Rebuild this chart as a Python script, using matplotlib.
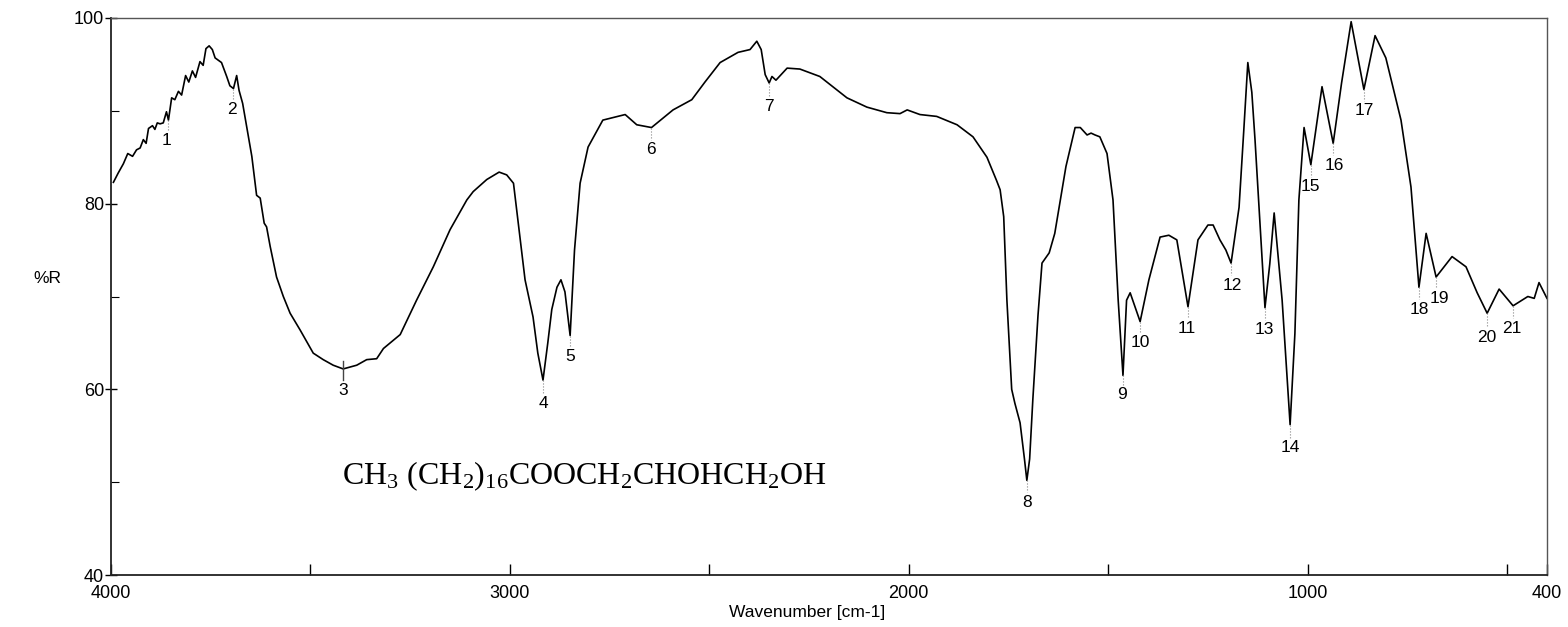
import matplotlib
matplotlib.use("Agg")
import matplotlib.pyplot as plt
from matplotlib.ticker import FixedLocator

plt.rcParams["font.family"] = ["Liberation Sans", "DejaVu Sans"]
plt.rcParams["mathtext.fontset"] = "custom"
plt.rcParams["mathtext.rm"] = "Liberation Serif"
plt.rcParams["mathtext.it"] = "Liberation Serif"

# IR spectrum of glyceryl monostearate (wavenumber cm-1 vs %R)
wavenumber = [
    3994, 3982, 3969, 3958, 3946, 3936, 3927, 3919, 3912, 3906, 3896, 3890,
    3884, 3877, 3869, 3861, 3856, 3848, 3840, 3831, 3823, 3813, 3805, 3796,
    3788, 3777, 3769, 3762, 3754, 3746, 3739, 3723, 3710, 3702, 3693, 3685,
    3679, 3670, 3660, 3647, 3635, 3626, 3616, 3610, 3601, 3585, 3568, 3551,
    3526, 3493, 3468, 3443, 3418, 3384, 3359, 3334, 3317, 3275, 3234, 3192,
    3150, 3108, 3092, 3058, 3027, 3008, 2991, 2962, 2942, 2930, 2917, 2905,
    2895, 2882, 2872, 2862, 2849, 2838, 2824, 2804, 2767, 2711, 2682, 2645,
    2591, 2544, 2511, 2473, 2428, 2398, 2381, 2370, 2360, 2350, 2343, 2333,
    2305, 2273, 2223, 2155, 2105, 2055, 2022, 2004, 1972, 1930, 1879, 1839,
    1804, 1780, 1771, 1762, 1754, 1742, 1734, 1721, 1710, 1704, 1697, 1689,
    1676, 1666, 1648, 1634, 1606, 1583, 1570, 1553, 1543, 1533, 1521, 1503,
    1488, 1475, 1463, 1454, 1445, 1433, 1420, 1398, 1370, 1348, 1328, 1300,
    1275, 1250, 1237, 1220, 1205, 1192, 1172, 1160, 1150, 1140, 1132, 1107,
    1095, 1084, 1064, 1044, 1032, 1022, 1009, 992, 964, 936, 915, 891,
    859, 831, 804, 766, 741, 721, 703, 678, 638, 603, 575, 550,
    520, 485, 448, 432, 420, 400,
]
reflectance = [
    82.3, 83.3, 84.3, 85.4, 85.1, 85.8, 86.0, 86.9, 86.5, 88.1, 88.4, 88.0,
    88.7, 88.6, 88.7, 89.9, 89.0, 91.4, 91.2, 92.1, 91.7, 93.8, 93.1, 94.3,
    93.6, 95.3, 94.9, 96.7, 97.0, 96.6, 95.7, 95.2, 93.7, 92.7, 92.4, 93.8,
    92.2, 90.8, 88.3, 85.1, 80.9, 80.6, 77.9, 77.5, 75.4, 72.1, 70.0, 68.2,
    66.4, 63.9, 63.2, 62.6, 62.2, 62.6, 63.2, 63.3, 64.4, 65.9, 69.6, 73.2,
    77.2, 80.4, 81.3, 82.6, 83.4, 83.1, 82.2, 71.8, 67.8, 63.9, 61.0, 65.0,
    68.6, 71.0, 71.8, 70.5, 65.8, 75.0, 82.2, 86.1, 89.0, 89.6, 88.5, 88.2,
    90.1, 91.2, 93.1, 95.2, 96.3, 96.6, 97.5, 96.6, 93.9, 93.0, 93.7, 93.3,
    94.6, 94.5, 93.7, 91.4, 90.4, 89.8, 89.7, 90.1, 89.6, 89.4, 88.5, 87.2,
    85.0, 82.5, 81.5, 78.6, 69.6, 60.0, 58.5, 56.4, 52.5, 50.2, 52.5, 58.9,
    68.0, 73.6, 74.7, 76.8, 84.0, 88.2, 88.2, 87.4, 87.6, 87.4, 87.2, 85.4,
    80.4, 69.6, 61.5, 69.6, 70.4, 68.9, 67.3, 71.8, 76.4, 76.6, 76.1, 68.9,
    76.1, 77.7, 77.7, 76.1, 75.0, 73.6, 79.6, 88.0, 95.2, 92.0, 86.9, 68.8,
    73.5, 79.0, 69.6, 56.2, 66.0, 80.4, 88.2, 84.2, 92.6, 86.5, 93.0, 99.6,
    92.3, 98.1, 95.7, 89.0, 81.8, 71.0, 76.8, 72.1, 74.3, 73.2, 70.4, 68.2,
    70.8, 69.0, 70.0, 69.8, 71.5, 69.8,
]

# numbered band markers: position, curve value at the band, label position
peak_ids = list(range(1, 22))
peak_wn = [3856, 3693, 3418, 2917, 2849, 2645, 2350, 1704, 1463, 1420, 1300,
           1192, 1107, 1044, 992, 936, 859, 721, 678, 550, 485]
peak_val = [89.0, 92.4, 62.2, 61.0, 65.8, 88.2, 93.0, 50.2, 61.5, 67.3, 68.9,
            73.6, 68.8, 56.2, 84.2, 86.5, 92.3, 71.0, 72.1, 68.2, 69.0]
peak_lbl_y = [86.8, 90.1, 59.9, 58.5, 63.5, 85.8, 90.5, 47.8, 59.4, 65.0, 66.6,
              71.2, 66.4, 53.7, 81.8, 84.1, 90.0, 68.6, 69.8, 65.6, 66.6]
peak_lbl_x = [3860, 3697, 3418, 2917, 2849, 2646, 2350, 1704, 1465, 1420, 1302,
              1190, 1109, 1044, 992, 934, 859, 720, 671, 550, 487]

formula = r"CH$_3$ (CH$_2$)$_{16}$COOCH$_2$CHOHCH$_2$OH"

fig = plt.figure(figsize=(15.68, 6.27), dpi=100)
ax = fig.add_axes([0.0708, 0.0829, 0.9158, 0.8884])

ax.plot(wavenumber, reflectance, color="black", lw=1.2)

for i, wn, val, ly, lx in zip(peak_ids, peak_wn, peak_val, peak_lbl_y, peak_lbl_x):
    if i == 3:
        ax.plot([wn, wn], [val + 0.8, ly + 1.1], color="#444444", lw=1.0)
    else:
        ax.plot([wn, wn], [val, ly + 1.1], color="#888888", lw=0.8, ls=":")
    ax.text(lx, ly, str(i), ha="center", va="center", fontsize=12.5)

ax.text(3420, 50.6, formula, ha="left", va="center", fontsize=23,
        family="Liberation Serif")

ax.set_xlim(4000, 400)
ax.set_ylim(40, 100)

ax.xaxis.set_major_locator(FixedLocator([4000, 3000, 2000, 1000, 400]))
ax.xaxis.set_minor_locator(FixedLocator([3500, 2500, 1500, 500]))
ax.yaxis.set_major_locator(FixedLocator([40, 60, 80, 100]))
ax.yaxis.set_minor_locator(FixedLocator([50, 70, 90]))

ax.tick_params(axis="x", which="both", direction="in", length=8, width=1,
               labelsize=13, pad=7)
ax.tick_params(axis="y", which="major", direction="inout", length=8, width=1,
               labelsize=13, pad=1)
ax.tick_params(axis="y", which="minor", direction="in", length=6, width=0.8)

ax.set_xlabel("Wavenumber [cm-1]", fontsize=12.5)
ax.xaxis.set_label_coords(0.485, -0.068)
ax.xaxis.label.set_va("center")
ax.set_ylabel("%R", fontsize=12.5, rotation=0)
ax.yaxis.set_label_coords(-0.044, 0.533)
ax.yaxis.label.set_va("center")

for side in ["top", "right"]:
    ax.spines[side].set_color("#555555")
    ax.spines[side].set_linewidth(1.0)
for side in ["left", "bottom"]:
    ax.spines[side].set_color("#222222")
    ax.spines[side].set_linewidth(1.3)

fig.savefig("out.png", dpi=100)
